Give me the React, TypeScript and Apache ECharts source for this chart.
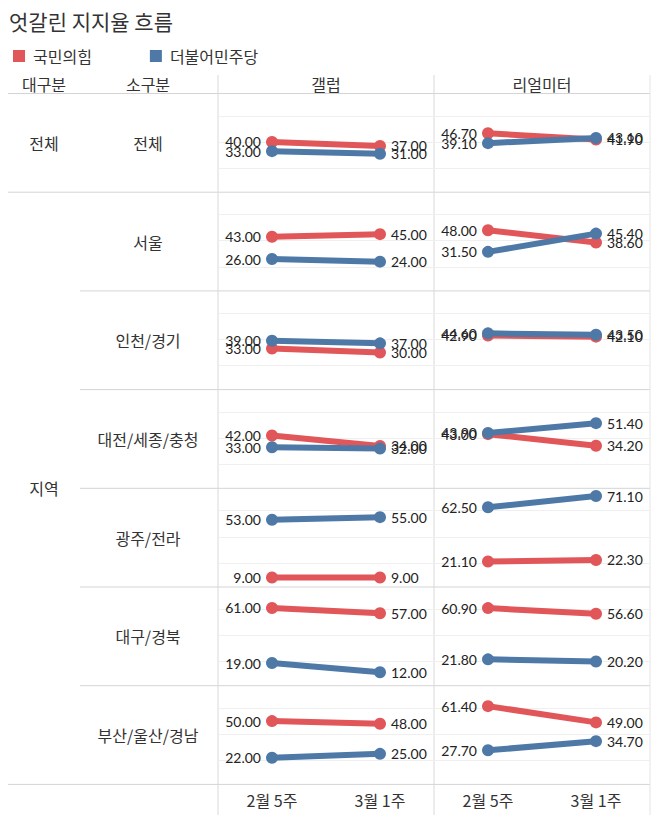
import React, { useEffect, useRef } from "react";
import * as echarts from "echarts";

const categories = ["2월 5주", "3월 1주"];
const regions = ["전체", "서울", "인천/경기", "대전/세종/충청", "광주/전라", "대구/경북", "부산/울산/경남"];
const pollsters = ["갤럽", "리얼미터"];
const parties = ["국민의힘", "더불어민주당"];
const partyColors = ["#E15759", "#4E79A7"];

const gallupPPP_w1 = [40, 43, 33, 42, 9, 61, 50];
const gallupPPP_w2 = [37, 45, 30, 34, 9, 57, 48];
const gallupDem_w1 = [33, 26, 39, 33, 53, 19, 22];
const gallupDem_w2 = [31, 24, 37, 32, 55, 12, 25];
const realPPP_w1 = [46.7, 48.0, 42.9, 43.0, 21.1, 60.9, 61.4];
const realPPP_w2 = [41.9, 38.6, 42.1, 34.2, 22.3, 56.6, 49.0];
const realDem_w1 = [39.1, 31.5, 44.6, 43.9, 62.5, 21.8, 27.7];
const realDem_w2 = [43.1, 45.4, 43.5, 51.4, 71.1, 20.2, 34.7];
const gridValues = [20, 40, 60];

export default function App() {
  const ref = useRef<HTMLDivElement>(null);
  useEffect(() => {
    document.body.style.margin = "0";
    const chart = echarts.init(ref.current!, null, { renderer: "svg" });
    const headerBottom = 93.5;
    const rowH = 98.7;
    const colLeft = [218, 434];
    const colW = 216;
    const numFont = "Lato, 'Noto Sans', sans-serif";
    const korFont = "'Noto Sans CJK KR', 'Noto Sans', sans-serif";

    const data = [
      [
        [gallupPPP_w1, gallupPPP_w2],
        [gallupDem_w1, gallupDem_w2],
      ],
      [
        [realPPP_w1, realPPP_w2],
        [realDem_w1, realDem_w2],
      ],
    ];

    const grids: any[] = [];
    const xAxes: any[] = [];
    const yAxes: any[] = [];
    const series: any[] = [];
    regions.forEach((_, r) => {
      pollsters.forEach((_, c) => {
        const idx = r * 2 + c;
        grids.push({ left: colLeft[c], width: colW, top: headerBottom + r * rowH, height: rowH });
        xAxes.push({
          type: "category",
          gridIndex: idx,
          data: categories,
          boundaryGap: true,
          axisLine: { show: false },
          axisTick: { show: false },
          axisLabel: {
            show: r === regions.length - 1,
            margin: 8,
            fontSize: 16,
            color: "#333",
            fontFamily: korFont,
          },
          splitLine: { show: false },
        });
        yAxes.push({
          type: "value",
          gridIndex: idx,
          min: 1.7,
          max: 77,
          axisLine: { show: false },
          axisTick: { show: false },
          axisLabel: { show: false },
          splitLine: { show: false },
        });
        parties.forEach((p, k) => {
          const vals = [data[c][k][0][r], data[c][k][1][r]];
          series.push({
            type: "line",
            name: p,
            xAxisIndex: idx,
            yAxisIndex: idx,
            symbol: "circle",
            symbolSize: 12,
            lineStyle: { width: 6, color: partyColors[k] },
            itemStyle: { color: partyColors[k] },
            z: 2 + k,
            data: vals.map((v, i) => ({
              value: v,
              label: {
                show: true,
                position: i === 0 ? "left" : "right",
                distance: 5,
                formatter: (pp: any) => Number(pp.value).toFixed(2),
                fontSize: 14,
                color: "#222",
                fontFamily: numFont,
              },
            })),
            markLine:
              k === 0
                ? {
                    silent: true,
                    z: 1,
                    symbol: "none",
                    label: { show: false },
                    lineStyle: { color: "#efefef", width: 1, type: "solid" },
                    data: gridValues.map((g) => ({ yAxis: g })),
                  }
                : undefined,
          });
        });
      });
    });

    const lineColor = "#d4d4d4";
    const graphics: any[] = [];
    const hline = (x1: number, x2: number, y: number, color = lineColor) =>
      graphics.push({ type: "line", shape: { x1, y1: y, x2, y2: y }, style: { stroke: color, lineWidth: 1 }, silent: true });
    const vline = (x: number, y1: number, y2: number, color = lineColor) =>
      graphics.push({ type: "line", shape: { x1: x, y1, x2: x, y2 }, style: { stroke: color, lineWidth: 1 }, silent: true });
    const text = (t: string, x: number, y: number, size: number, align = "center", color = "#333") =>
      graphics.push({
        type: "text",
        x,
        y,
        style: { text: t, fontSize: size, fill: color, align, verticalAlign: "middle", fontFamily: korFont },
        silent: true,
      });

    const bottom = headerBottom + regions.length * rowH;
    hline(8, 650, headerBottom);
    hline(8, 650, headerBottom + rowH);
    for (let r = 2; r < regions.length; r++) hline(80, 650, headerBottom + r * rowH);
    hline(8, 650, bottom);
    vline(218, 75, 815, "#d9d9d9");
    vline(434, 75, 815, "#d9d9d9");
    vline(650, 75, 815, "#e4e4e4");

    text("대구분", 44, 84, 16);
    text("소구분", 148, 84, 16);
    text("갤럽", 326, 84, 16);
    text("리얼미터", 542, 84, 16);
    text("전체", 44, headerBottom + rowH / 2, 16);
    text("지역", 44, (headerBottom + rowH + bottom) / 2, 16);
    regions.forEach((name, r) => text(name, 148, headerBottom + r * rowH + rowH / 2, 16));

    chart.setOption({
      animation: false,
      backgroundColor: "#fff",
      title: {
        text: "엇갈린 지지율 흐름",
        left: 4,
        top: 5,
        textStyle: { fontSize: 21, fontWeight: "normal", color: "#333", fontFamily: korFont },
      },
      legend: {
        data: parties,
        left: 8,
        top: 43,
        icon: "rect",
        itemWidth: 12,
        itemHeight: 12,
        itemGap: 58,
        textStyle: { fontSize: 16, color: "#333", fontFamily: korFont, padding: [0, 0, 0, 3] },
        selectedMode: false,
      },
      grid: grids,
      xAxis: xAxes,
      yAxis: yAxes,
      series,
      graphic: graphics,
    });
    return () => chart.dispose();
  }, []);
  return <div ref={ref} style={{ width: 658, height: 819 }} />;
}
